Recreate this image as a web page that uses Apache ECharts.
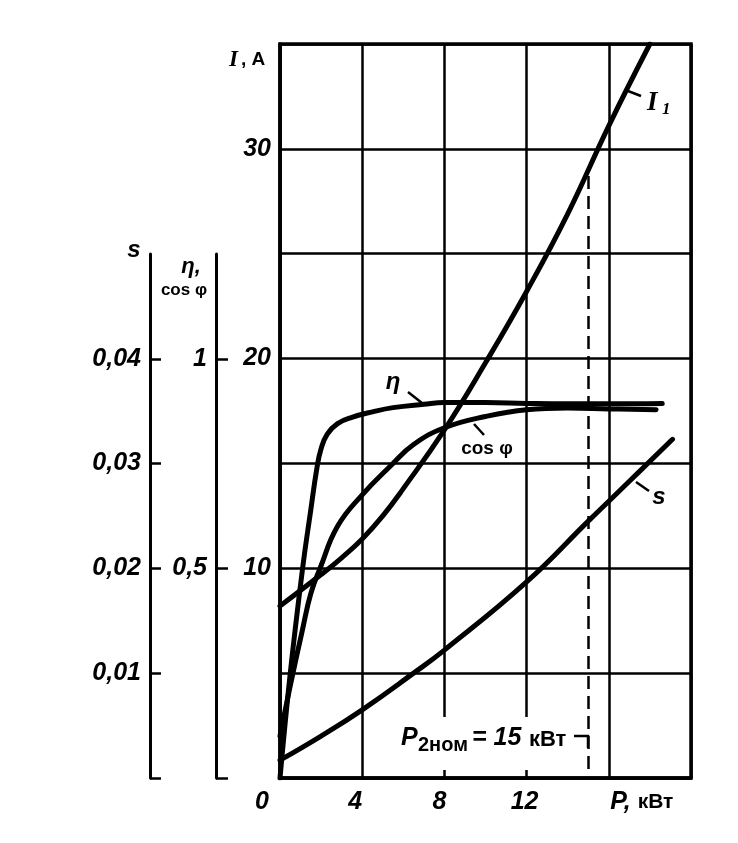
<!DOCTYPE html>
<html><head><meta charset="utf-8">
<script src="https://cdn.jsdelivr.net/npm/echarts@6/dist/echarts.min.js"></script>
<style>html,body{margin:0;padding:0;background:#fff}#c{width:738px;height:843px}</style>
</head><body><div id="c"></div>
<script>
// ---- data ----
const powerI = [0, 2, 3, 4, 5, 6, 8, 10, 12, 14, 16, 18];
const currentI = [8.2, 9.7, 10.5, 11.4, 12.5, 13.8, 16.6, 19.8, 23.2, 26.9, 31.1, 35.0];
const powerEta = [0, 0.5, 1.1, 1.5, 1.8, 2.0, 2.3, 2.8, 3.5, 4.5, 5.5, 7, 8, 10, 12, 14, 16, 18.6];
const efficiency = [0, 0.25, 0.5, 0.64, 0.74, 0.785, 0.82, 0.845, 0.86, 0.873, 0.883, 0.891, 0.895, 0.895, 0.893, 0.892, 0.892, 0.893];
const powerCos = [0, 0.5, 1.1, 1.5, 1.95, 2.8, 4, 5.4, 6.5, 8, 10, 12, 14, 16, 18.3];
const powerFactor = [0.1, 0.22, 0.355, 0.44, 0.50, 0.60, 0.675, 0.745, 0.795, 0.835, 0.862, 0.878, 0.882, 0.88, 0.878];
const powerS = [0, 2, 4, 6.5, 8, 12, 15, 16, 17, 19.1];
const slip = [0.0017, 0.004, 0.0065, 0.010, 0.0122, 0.0187, 0.0245, 0.0264, 0.0283, 0.0323];
const xTicks = [0, 4, 8, 12, 16];
const iLabels = [10, 20, 30];
const sTicks = [0, 0.01, 0.02, 0.03, 0.04];
const sLabels = [0.01, 0.02, 0.03, 0.04];
const etaTicks = [0, 0.5, 1];
const etaLabels = [0.5, 1];
const nominalP = 15;

const F = 'Liberation Sans';
const pairs = (xs, ys) => xs.map((x, i) => [x, ys[i]]);
function interp(xs, ys, x) {
  for (let i = 1; i < xs.length; i++) {
    if (x <= xs[i]) { const t = (x - xs[i-1]) / (xs[i] - xs[i-1]); return ys[i-1] + t * (ys[i] - ys[i-1]); }
  }
  return ys[ys.length - 1];
}
const comma = v => String(v).replace('.', ',');
const lblStyle = { fontFamily: F, fontWeight: 'bold', fontStyle: 'italic', fontSize: 25, color: '#000' };
const curve = { type: 'line', showSymbol: false, symbol: 'none', smooth: 0.45,
  lineStyle: { color: '#000', width: 5, cap: 'round', join: 'round' }, z: 3, silent: true };

const chart = echarts.init(document.getElementById('c'), null, { renderer: 'canvas' });
chart.setOption({
  backgroundColor: '#fff',
  animation: false,
  grid: [
    { left: 280, top: 44, width: 411, height: 734, show: true, borderColor: '#000', borderWidth: 3.5 },
    { left: 150, top: 254, width: 10, height: 524 },
    { left: 216, top: 254, width: 10, height: 524 }
  ],
  xAxis: [
    { type: 'value', gridIndex: 0, min: 0, max: 20, interval: 4,
      axisLine: { show: true, lineStyle: { color: '#000', width: 3.5 } },
      axisTick: { show: false },
      splitLine: { show: true, lineStyle: { color: '#000', width: 2.5 } },
      axisLabel: { customValues: xTicks, margin: 12, ...lblStyle,
        formatter: v => v === 0 ? '{z|0}' : v === 4 ? '{a|4}' : v === 8 ? '{b|8}' : v === 12 ? '{c|12}' : v === 16 ? '{p|P,} {k|кВт}' : '',
        rich: {
          z: { ...lblStyle, padding: [0, 36, 0, 0] },
          a: { ...lblStyle, padding: [0, 14, 0, 0] },
          b: { ...lblStyle, padding: [0, 10, 0, 0] },
          c: { ...lblStyle, padding: [0, 4, 0, 0] },
          p: { ...lblStyle, padding: [0, 0, 0, 66] },
          k: { ...lblStyle, fontStyle: 'normal', fontSize: 21 }
        } } },
    { type: 'value', gridIndex: 1, show: false, min: 0, max: 1 },
    { type: 'value', gridIndex: 2, show: false, min: 0, max: 1 }
  ],
  yAxis: [
    { type: 'value', gridIndex: 0, min: 0, max: 35, interval: 5,
      axisLine: { show: true, lineStyle: { color: '#000', width: 3.5 } },
      axisTick: { show: false },
      splitLine: { show: true, lineStyle: { color: '#000', width: 2.5 } },
      axisLabel: { customValues: iLabels, margin: 9, ...lblStyle } },
    { type: 'value', gridIndex: 0, min: 0, max: 1.75, show: false },
    { type: 'value', gridIndex: 0, min: 0, max: 0.07, show: false },
    { type: 'value', gridIndex: 1, min: 0, max: 0.05, position: 'left',
      axisLine: { show: true, lineStyle: { color: '#000', width: 3 } },
      axisTick: { show: true, inside: true, length: 11, customValues: sTicks, lineStyle: { color: '#000', width: 2.5 } },
      splitLine: { show: false },
      axisLabel: { customValues: sLabels, margin: 9, ...lblStyle, formatter: comma } },
    { type: 'value', gridIndex: 2, min: 0, max: 1.25, position: 'left',
      axisLine: { show: true, lineStyle: { color: '#000', width: 3 } },
      axisTick: { show: true, inside: true, length: 12, customValues: etaTicks, lineStyle: { color: '#000', width: 2.5 } },
      splitLine: { show: false },
      axisLabel: { customValues: etaLabels, margin: 9, ...lblStyle, formatter: comma } }
  ],
  series: [
    { ...curve, name: 'I1', xAxisIndex: 0, yAxisIndex: 0, data: pairs(powerI, currentI),
      markLine: { silent: true, symbol: 'none', label: { show: false },
        lineStyle: { color: '#000', width: 2.5, type: [13, 7] },
        data: [[{ coord: [nominalP, interp(powerI, currentI, nominalP) - 0.3] }, { coord: [nominalP, 0.4] }]] } },
    { ...curve, name: 'eta', xAxisIndex: 0, yAxisIndex: 1, data: pairs(powerEta, efficiency) },
    { ...curve, name: 'cos', xAxisIndex: 0, yAxisIndex: 1, data: pairs(powerCos, powerFactor) },
    { ...curve, name: 's', xAxisIndex: 0, yAxisIndex: 2, data: pairs(powerS, slip) }
  ],
  graphic: [
    { type: 'rect', z: 1, shape: { x: 396, y: 717, width: 189, height: 53 }, style: { fill: '#fff' } },
    { type: 'text', z: 5, x: 401, y: 738, style: { text: 'P', font: 'italic bold 25px ' + F, fill: '#000', verticalAlign: 'middle' } },
    { type: 'text', z: 5, x: 418, y: 745, style: { text: '2ном', font: 'bold 20px ' + F, fill: '#000', verticalAlign: 'middle' } },
    { type: 'text', z: 5, x: 472, y: 738, style: { text: '= 15', font: 'italic bold 25px ' + F, fill: '#000', verticalAlign: 'middle' } },
    { type: 'text', z: 5, x: 529, y: 740, style: { text: 'кВт', font: 'bold 22px ' + F, fill: '#000', verticalAlign: 'middle' } },
    { type: 'polyline', z: 5, shape: { points: [[574, 736], [588, 736], [588, 748]] }, style: { stroke: '#000', lineWidth: 2.5, fill: null } },
    // axis titles
    { type: 'text', z: 5, x: 229, y: 60, style: { text: 'I', font: 'italic bold 23px "Liberation Serif"', fill: '#000', verticalAlign: 'middle' } },
    { type: 'text', z: 5, x: 241, y: 60, style: { text: ', A', font: 'bold 19px ' + F, fill: '#000', verticalAlign: 'middle' } },
    { type: 'text', z: 5, x: 134, y: 250, style: { text: 's', font: 'italic bold 24px ' + F, fill: '#000', align: 'center', verticalAlign: 'middle' } },
    { type: 'text', z: 5, x: 191, y: 267, style: { text: 'η,', font: 'italic bold 22px ' + F, fill: '#000', align: 'center', verticalAlign: 'middle' } },
    { type: 'text', z: 5, x: 184, y: 290, style: { text: 'cos φ', font: 'bold 17px ' + F, fill: '#000', align: 'center', verticalAlign: 'middle' } },
    // curve labels and leaders
    { type: 'line', z: 5, shape: { x1: 628, y1: 91, x2: 641, y2: 96 }, style: { stroke: '#000', lineWidth: 2.5 } },
    { type: 'text', z: 5, x: 647, y: 103, style: { text: 'I', font: 'italic bold 27px "Liberation Serif"', fill: '#000', verticalAlign: 'middle' } },
    { type: 'text', z: 5, x: 662, y: 110, style: { text: '1', font: 'italic bold 17px "Liberation Serif"', fill: '#000', verticalAlign: 'middle' } },
    { type: 'line', z: 5, shape: { x1: 408, y1: 392, x2: 422, y2: 403 }, style: { stroke: '#000', lineWidth: 2.5 } },
    { type: 'text', z: 5, x: 393, y: 382, style: { text: 'η', font: 'italic bold 24px ' + F, fill: '#000', align: 'center', verticalAlign: 'middle' } },
    { type: 'line', z: 5, shape: { x1: 474, y1: 424, x2: 484, y2: 435 }, style: { stroke: '#000', lineWidth: 2.5 } },
    { type: 'text', z: 5, x: 487, y: 449, style: { text: 'cos φ', font: 'bold 19px ' + F, fill: '#000', align: 'center', verticalAlign: 'middle' } },
    { type: 'line', z: 5, shape: { x1: 636, y1: 482, x2: 649, y2: 491 }, style: { stroke: '#000', lineWidth: 2.5 } },
    { type: 'text', z: 5, x: 659, y: 497, style: { text: 's', font: 'italic bold 24px ' + F, fill: '#000', align: 'center', verticalAlign: 'middle' } }
  ]
});
</script></body></html>
